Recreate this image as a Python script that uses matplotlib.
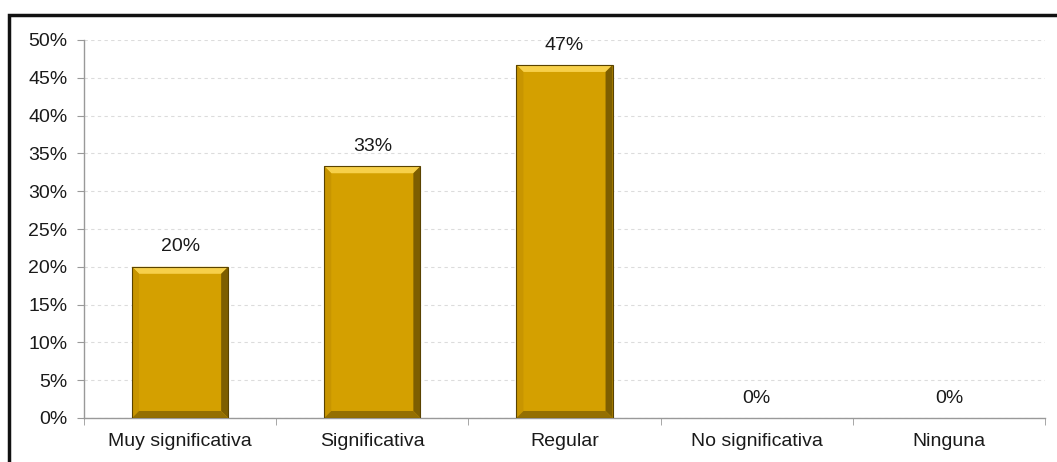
import matplotlib.pyplot as plt
from matplotlib.patches import Rectangle, Polygon
from matplotlib.ticker import MultipleLocator, FuncFormatter
import numpy as np

# Respuestas (porcentaje)
categorias = ['Muy significativa', 'Significativa', 'Regular', 'No significativa', 'Ninguna']
valores = [20.0, 33.3, 46.7, 0.0, 0.0]

plt.rcParams['font.family'] = ['Liberation Sans', 'DejaVu Sans']

fig = plt.figure(figsize=(10.57, 4.62), dpi=100)
ax = fig.add_axes([84 / 1057, 1 - 418 / 462, (1045 - 84) / 1057, (418 - 40) / 462])

x = np.arange(len(categorias))
ancho = 0.5
oro = '#D4A000'

# bevel sizes in data units (approx 7 px)
bx = 7 * len(categorias) / (1045 - 84)
by = 7 * 50 / (418 - 40)

for xi, v in zip(x, valores):
    if v > 0:
        x0, x1 = xi - ancho / 2, xi + ancho / 2
        ax.add_patch(Rectangle((x0, 0), ancho, v, facecolor=oro, edgecolor='none', zorder=3))
        # top bevel (light)
        ax.add_patch(Polygon([(x0, v), (x1, v), (x1 - bx, v - by), (x0 + bx, v - by)],
                             closed=True, facecolor='#F7D04A', edgecolor='none', zorder=4))
        # left bevel
        ax.add_patch(Polygon([(x0, 0), (x0, v), (x0 + bx, v - by), (x0 + bx, by)],
                             closed=True, facecolor='#C89500', edgecolor='none', zorder=4))
        # right bevel (dark)
        ax.add_patch(Polygon([(x1, 0), (x1, v), (x1 - bx, v - by), (x1 - bx, by)],
                             closed=True, facecolor='#7d5e00', edgecolor='none', zorder=4))
        # bottom bevel
        ax.add_patch(Polygon([(x0, 0), (x1, 0), (x1 - bx, by), (x0 + bx, by)],
                             closed=True, facecolor='#946f00', edgecolor='none', zorder=4))
        ax.add_patch(Rectangle((x0, 0), ancho, v, facecolor='none', edgecolor='#5a4300', lw=0.8, zorder=5))
    ax.text(xi, v + 1.5, f'{v:.0f}%', ha='center', va='bottom', fontsize=14, color='#1a1a1a', zorder=6)

ax.set_xlim(-0.5, len(categorias) - 0.5)
ax.set_ylim(0, 50)
ax.yaxis.set_major_locator(MultipleLocator(5))
ax.yaxis.set_major_formatter(FuncFormatter(lambda v, p: f'{v:.0f}%'))
ax.set_xticks(x)
ax.set_xticklabels(categorias)
ax.set_xticks(np.arange(len(categorias) + 1) - 0.5, minor=True)
ax.tick_params(axis='x', which='major', length=0, pad=11, labelsize=14, labelcolor='#1a1a1a')
ax.tick_params(axis='x', which='minor', length=5, color='#999999', direction='out')
ax.tick_params(axis='y', length=5, color='#999999', labelsize=14, labelcolor='#1a1a1a', pad=7)

ax.yaxis.grid(True, linestyle=(0, (3, 3)), color='#dcdcdc', lw=0.8, zorder=0)
ax.set_axisbelow(True)
for s in ['top', 'right']:
    ax.spines[s].set_visible(False)
for s in ['left', 'bottom']:
    ax.spines[s].set_color('#999999')
    ax.spines[s].set_linewidth(1)

# outer chart frame
fig.patches.append(Rectangle((9 / 1057, -0.05), 1.1, 1 - 15 / 462 + 0.05, transform=fig.transFigure,
                             fill=False, edgecolor='#111111', lw=2.5, zorder=10))

fig.savefig('out.png', dpi=100)
